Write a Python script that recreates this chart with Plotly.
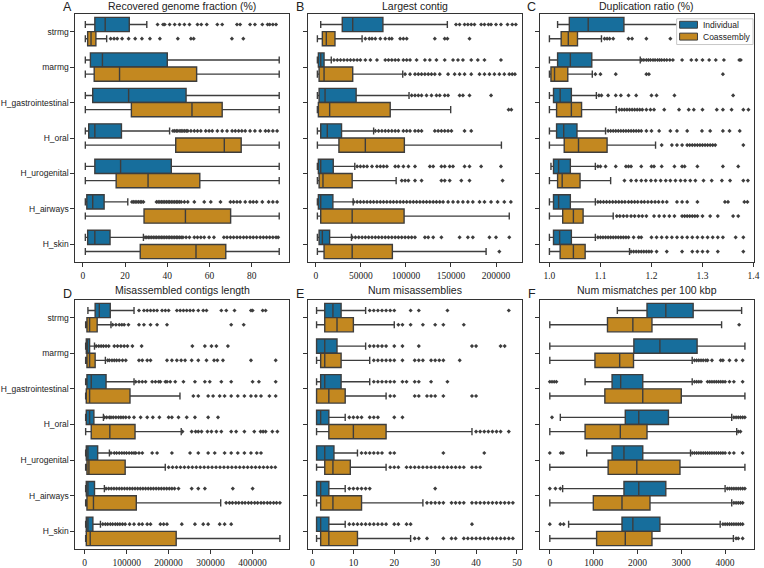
import plotly.graph_objects as go

categories = ["strmg", "marmg", "H_gastrointestinal", "H_oral", "H_urogenital", "H_airways", "H_skin"]
groups = ["Individual", "Coassembly"]
titles = ["Recovered genome fraction (%)", "Largest contig", "Duplication ratio (%)",
          "Misassembled contigs length", "Num misassemblies", "Num mismatches per 100 kbp"]
letters = ["A", "B", "C", "D", "E", "F"]

# tick labels of each panel's value axis
A_ticks = [0, 20, 40, 60, 80]
B_ticks = [0, 50000, 100000, 150000, 200000]
C_ticks = [1.0, 1.1, 1.2, 1.3, 1.4]
D_ticks = [0, 100000, 200000, 300000, 400000]
E_ticks = [0, 10, 20, 30, 40, 50]
F_ticks = [0, 1000, 2000, 3000, 4000]

# box statistics per category: [lower whisker, q1, median, q3, upper whisker]
A_ind = [[1.2, 5.7, 10.6, 22, 30.3], [1.2, 3.6, 9.3, 40, 93], [1.2, 4.7, 21.7, 48.9, 93],
         [1.2, 2.8, 5.7, 18.3, 41.1], [1.2, 5.7, 17.9, 41.9, 93], [1.2, 1.9, 4.7, 10.1, 21.3],
         [1.2, 2.3, 5.7, 12.9, 28.7]]
A_coa = [[1.2, 2.3, 3.9, 6.2, 11.3], [1.2, 5.4, 17.4, 53.9, 93], [1.2, 23, 51.7, 66, 93],
         [1.2, 44, 67, 75, 93], [1.2, 15.8, 30.9, 55.4, 93], [1.2, 29, 48.6, 70, 93],
         [1.2, 27.2, 53.6, 67.7, 93]]
A_ind_out = [
    [35.4, 38, 38.8, 41.1, 43.5, 45.8, 48.1, 50.5, 54.3, 56.1, 58.7, 63.7, 66, 73, 74.5, 79.2, 81.5, 85, 87.5, 88.5, 90, 91.5],
    [], [],
    [42.7, 43.5, 44.3, 45, 46, 46.6, 47.4, 48.2, 49, 49.7, 51.2, 52.8, 54.3, 55.9, 58.2, 59.8, 61.3, 63.7, 66,
     68.3, 70.7, 72.2, 73.8, 75.3, 76.9, 79.2, 81.5, 84, 86.5, 88, 90, 92],
    [],
    [23.3, 24.1, 24.8, 25.6, 26.4, 27.2, 27.9, 28.7, 34.9, 35.7, 36.5, 37.3, 38, 38.8, 39.6, 40.4, 41.1, 41.9, 42.7,
     43.5, 44.3, 45, 45.8, 46.6, 48.1, 49.7, 52.8, 57.5, 60.6, 65.2, 69.9, 71.4, 73, 74.5, 76.9, 79.2, 80.7, 82.3,
     85, 88, 90, 92],
    [29.5, 30.3, 31.1, 31.8, 32.6, 33.4, 34.2, 34.9, 35.7, 36.5, 37.3, 38, 38.8, 39.6, 40.4, 41.1, 41.9, 42.7, 43.5,
     44.3, 45, 45.8, 46.6, 47.4, 48.9, 50.5, 52.8, 54.3, 55.9, 57.5, 59.8, 62.1, 66.8, 68.3, 69.9, 71.4, 73, 74.5,
     76.1, 77.6, 79.2, 80.7, 82.3, 84, 85.5, 87, 88.5, 90, 91.5, 92.5],
]
A_coa_out = [[13.2, 14.8, 16.3, 18.6, 21.7, 24.8, 28, 31.8, 36.5, 45, 51.2, 52.5, 70.6, 76], [], [], [], [], [], []]

B_ind = [[5500, 29400, 41000, 74500, 146000], [1800, 2900, 5500, 9200, 17200], [1800, 3700, 10300, 44800, 103500],
         [1800, 5500, 12800, 28600, 64200], [1800, 2900, 5500, 19400, 43300], [1800, 2900, 5500, 19000, 41500],
         [1800, 3700, 7300, 15400, 39600]]
B_coa = [[1800, 7300, 11700, 21300, 51400], [1800, 3700, 9200, 41000, 96500], [1800, 2900, 15400, 82600, 149700],
         [1800, 25700, 55000, 98300, 206000], [1800, 3700, 8000, 40400, 89200], [1800, 5500, 40400, 98000, 214700],
         [1800, 9200, 40400, 85000, 189000]]
B_ind_out = [
    [155600, 159600, 165100, 168800, 172500, 176100, 183500, 187200, 191600, 194500, 200000, 205500, 212800, 218000, 222000],
    [20200, 23900, 27500, 31200, 34900, 38500, 42200, 45900, 49500, 55000, 60600, 67900, 77100, 80700, 84400, 88100,
     91700, 97200, 100900, 104600, 111900, 121100, 126600, 133900, 143100, 152300, 157800, 163300, 172500, 179800,
     187200, 205500],
    [106400, 110100, 113800, 117400, 122900, 128400, 133900, 137600, 143100, 146800, 159600, 163300, 170600, 194500],
    [66100, 69700, 73400, 77100, 80700, 84400, 88100, 91700, 97200, 100900, 104600, 110100, 113800, 117400, 132100,
     135800, 139400, 143100, 146800, 150500, 165100, 172500],
    [45900, 49500, 53200, 56900, 62400, 67900, 71600, 75200, 78900, 88100, 91700, 97200, 102800, 110100, 126600,
     130300, 139400, 143100, 148600, 152300, 165100, 170600, 183500, 205500],
    [42200, 45900, 49500, 53200, 56900, 60600, 64200, 67900, 71600, 75200, 78900, 82600, 86200, 89900, 93600, 97200,
     100900, 104600, 108300, 111900, 115600, 119300, 122900, 126600, 130300, 133900, 137600, 141300, 146800, 152300,
     157800, 163300, 168800, 174300, 181700, 187200, 194500, 201800, 209200, 216500],
    [40400, 44000, 47700, 51400, 55000, 58700, 62400, 66100, 69700, 73400, 77100, 80700, 84400, 88100, 91700, 95400,
     99100, 102800, 106400, 110100, 121100, 124800, 130300, 139400, 159600, 168800, 174300, 192700, 200000, 214700],
]
B_coa_out = [
    [55000, 59400, 62400, 66100, 71600, 77100, 81500, 84400, 93600, 97200, 100900, 132100, 143100, 146100, 170600],
    [99100, 104600, 110100, 113800, 117400, 121100, 124800, 128400, 132100, 137600, 146800, 154100, 159600, 165100,
     172500, 181700, 187200, 192700, 198200, 203700, 209200, 214700, 218000, 221000],
    [214000, 217000],
    [],
    [95400, 99100, 102800, 110100, 117400, 139400, 143100, 148600, 161500, 170600, 207300],
    [],
    [203700],
]

C_ind = [[1.016, 1.039, 1.076, 1.146, 1.26], [1.0, 1.016, 1.041, 1.083, 1.178], [1.0, 1.008, 1.021, 1.043, 1.092],
         [1.0, 1.014, 1.028, 1.054, 1.11], [1.003, 1.008, 1.018, 1.041, 1.09], [1.0, 1.008, 1.018, 1.041, 1.09],
         [1.0, 1.008, 1.02, 1.043, 1.09]]
C_coa = [[1.0, 1.023, 1.037, 1.055, 1.102], [1.0, 1.003, 1.010, 1.036, 1.084], [1.0, 1.014, 1.043, 1.063, 1.131],
         [1.0, 1.029, 1.057, 1.113, 1.208], [1.0, 1.016, 1.025, 1.06, 1.12], [1.0, 1.026, 1.047, 1.066, 1.125],
         [1.0, 1.021, 1.047, 1.07, 1.157]]
C_ind_out = [
    [1.3, 1.33],
    [1.181, 1.185, 1.19, 1.194, 1.198, 1.203, 1.207, 1.212, 1.216, 1.22, 1.225, 1.23, 1.236, 1.242, 1.26, 1.278,
     1.288, 1.3, 1.313, 1.326, 1.342, 1.372, 1.375],
    [1.097, 1.102, 1.115, 1.13, 1.14, 1.155, 1.17, 1.2, 1.21, 1.245, 1.36],
    [1.115, 1.12, 1.125, 1.13, 1.135, 1.14, 1.145, 1.15, 1.155, 1.16, 1.165, 1.17, 1.175, 1.18, 1.19, 1.2, 1.215,
     1.237, 1.25, 1.27, 1.299, 1.315, 1.34, 1.353, 1.373],
    [1.095, 1.1, 1.11, 1.13, 1.15, 1.155, 1.16, 1.18, 1.2, 1.205, 1.22, 1.245, 1.26, 1.265, 1.29, 1.34, 1.37],
    [1.095, 1.1, 1.106, 1.112, 1.118, 1.124, 1.13, 1.136, 1.142, 1.148, 1.155, 1.161, 1.167, 1.173, 1.18, 1.186,
     1.193, 1.2, 1.207, 1.214, 1.222, 1.23, 1.25, 1.26, 1.27, 1.29, 1.344, 1.35, 1.382, 1.388],
    [1.095, 1.1, 1.105, 1.11, 1.115, 1.12, 1.125, 1.13, 1.135, 1.14, 1.145, 1.15, 1.155, 1.165, 1.175, 1.18, 1.2,
     1.21, 1.22, 1.23, 1.24, 1.25, 1.26, 1.27, 1.28, 1.29, 1.3, 1.31, 1.32, 1.33, 1.34, 1.365, 1.38],
]
C_coa_out = [
    [1.108, 1.113, 1.118, 1.125, 1.155, 1.162, 1.19, 1.237],
    [1.09, 1.1, 1.13, 1.19, 1.195, 1.34],
    [1.137, 1.142, 1.147, 1.152, 1.157, 1.162, 1.167, 1.172, 1.177, 1.182, 1.19, 1.198, 1.205, 1.225, 1.254, 1.273,
     1.283, 1.3, 1.328, 1.34, 1.357, 1.38, 1.39],
    [1.22, 1.24, 1.25, 1.26, 1.27, 1.275, 1.28, 1.285, 1.29, 1.295, 1.3, 1.305, 1.31, 1.315, 1.32, 1.325, 1.38],
    [1.147, 1.16, 1.17, 1.18, 1.189, 1.199, 1.208, 1.218, 1.228, 1.237, 1.247, 1.257, 1.266, 1.276, 1.286, 1.302,
     1.318, 1.338, 1.354, 1.38, 1.389],
    [1.132, 1.138, 1.145, 1.152, 1.16, 1.167, 1.175, 1.182, 1.19, 1.205, 1.215, 1.225, 1.235, 1.245, 1.26, 1.265,
     1.27, 1.275, 1.28, 1.285, 1.29, 1.3, 1.315, 1.33, 1.36, 1.37],
    [1.16, 1.165, 1.17, 1.175, 1.18, 1.185, 1.19, 1.195, 1.2, 1.21, 1.23, 1.26, 1.28, 1.29, 1.3, 1.31, 1.33, 1.38],
]

D_ind = [[7800, 25000, 35000, 61000, 117600], [2400, 3900, 6300, 11800, 23500], [2400, 5500, 15700, 51000, 117600],
         [2400, 3900, 11800, 22000, 44700], [2400, 3900, 7800, 31000, 59000], [2400, 3900, 7800, 23500, 47000],
         [2400, 3900, 7800, 19600, 37600]]
D_coa = [[2400, 5500, 11800, 29800, 62700], [2400, 5500, 11800, 25000, 49400], [2400, 3900, 11800, 108000, 227000],
         [2400, 15700, 60000, 120000, 230000], [2400, 5500, 10200, 96500, 192000], [2400, 5500, 21000, 123000, 324000],
         [2400, 3900, 13300, 218000, 465000]]
D_ind_out = [
    [129400, 141200, 149000, 156900, 164700, 172500, 184300, 192200, 200000, 219600, 227500, 235300, 243100, 251000,
     258800, 270600, 282400, 290200, 325500, 337300, 356900, 396100, 400000, 424000, 431000],
    [27500, 33700, 39200, 44700, 51000, 57300, 70600, 78400, 86300, 94100, 102000, 113700, 135700, 256500, 286300,
     302000, 313700, 341200],
    [121600, 129400, 137300, 145100, 160800, 168600, 176500, 180400, 192200, 196100, 203900, 215700, 235300, 262700,
     286300, 298000, 325500, 349000, 400000, 415000, 455000],
    [47100, 52500, 58800, 62700, 68200, 74500, 80800, 86300, 91800, 98000, 105900, 117600, 133300, 149000, 162400,
     178000, 200000, 207800, 223500, 243100, 262700, 294100, 317600],
    [62700, 70600, 76100, 82400, 88600, 94100, 99600, 105900, 112200, 117600, 121600, 129400, 137300, 160800, 172500,
     207800, 251000, 270600, 294100, 309800, 333300, 349000, 364700, 380400, 396100, 410000, 420000],
    [51000, 57300, 63500, 69800, 76100, 82400, 88600, 94900, 101200, 107500, 113700, 120000, 126300, 132500, 138800,
     145100, 151400, 157600, 163900, 170200, 176500, 182700, 189000, 195300, 201600, 207800, 214100, 223500, 254900,
     270600, 286300, 352900, 400000],
    [43100, 49400, 54900, 61200, 66700, 73100, 78400, 83900, 90200, 96500, 107100, 117600, 129400, 137300, 149000,
     156900, 180400, 188200, 196100, 231400, 262700, 282400, 294100, 321600, 333300, 349000],
]
D_coa_out = [
    [66700, 74500, 82400, 88600, 94100, 104300, 129400, 141200, 156900, 172500, 196100, 349000, 378800],
    [54900, 58800, 65100, 70600, 76100, 82400, 90200, 98000, 129400, 137300, 149000, 156900, 196100, 207800, 219600,
     229800, 239200, 254900, 270600, 290200, 308200, 316100, 329400, 396100, 455000],
    [258800, 270600, 294100, 305900, 321600, 333300, 349000, 364700, 380400, 396100, 407800, 420000, 440000, 455000],
    [232900, 254900, 264300, 270600, 278400, 292500, 302000, 313700, 325500, 349000, 360800, 380400, 403900, 419000,
     425000, 431000, 447000, 459000],
    [200000, 209400, 218800, 228200, 237600, 247100, 256500, 265900, 275300, 284700, 294100, 303500, 312900, 322400,
     331800, 341200, 350600, 360000, 369400, 378800, 388200, 397600, 407000, 416500, 425900, 435300, 444700, 454000],
    [337000, 345000, 352000, 360000, 367000, 375000, 382000, 390000, 397000, 405000, 412000, 420000, 427000, 435000,
     442000, 450000, 457000, 465000],
    [],
]

E_ind = [[1, 3, 5, 7, 13], [1, 1, 3, 6, 13], [1, 2, 3, 7, 14], [1, 1, 2, 4, 8], [1, 1, 3, 5.25, 11],
         [1, 1, 2, 4, 8], [1, 1, 2, 4, 8]]
E_coa = [[1, 3, 6, 10, 20], [1, 2, 3, 7, 14], [1, 1, 4, 8, 18], [1, 4, 10, 18, 39], [1, 3, 5, 9.25, 18],
         [1, 2, 5, 12, 27], [1, 2, 4, 11, 24]]
E_ind_out = [
    [14, 15, 16, 17, 18, 19, 20, 24, 26, 33, 48],
    [14, 15, 16, 17, 18, 20, 22, 26, 39, 40, 46, 47],
    [15, 16, 17, 18, 19, 20, 22, 23, 25, 26, 29, 33],
    [9, 10, 11, 12, 14, 15, 16, 20, 22],
    [12, 13, 14, 15, 16, 17, 19, 20, 32, 42],
    [9, 10, 11, 12, 13, 14, 30],
    [9, 10, 11, 12, 13, 14, 15, 16, 17, 18, 20, 21, 23, 24, 39],
]
E_coa_out = [
    [21, 22, 24, 27, 30, 32, 37],
    [15, 16, 17, 18, 19, 20, 22, 25, 26, 27, 29, 30, 31, 32, 36],
    [19, 20, 25, 26, 28, 29, 30, 32, 39, 40],
    [40, 41, 42, 43, 44, 45, 46, 48],
    [19, 20, 21, 23, 24, 25, 26, 27, 28, 29, 30, 31, 32, 33, 34, 35, 36, 37, 39, 40, 41],
    [28, 29, 30, 31, 32, 34, 35, 36, 37, 39, 40, 41, 42, 43, 44, 45, 46, 47, 48, 49],
    [25, 26, 28, 32, 34, 35, 37, 38, 39, 40, 41, 42, 43, 44, 45, 46, 47, 48, 49],
]

F_ind = [[1541, 2218, 2647, 3271, 4377], [0, 1918, 2512, 3361, 4452], [805, 1421, 1617, 2121, 3249],
         [240, 1722, 2030, 2707, 4151], [842, 1421, 1692, 2121, 3211], [293, 1692, 2030, 2647, 4000],
         [429, 1647, 1895, 2512, 3888]]
F_coa = [[0, 1316, 1895, 2331, 3920], [0, 1030, 1594, 1910, 3249], [0, 1256, 2121, 3000, 4452],
         [0, 805, 1609, 2218, 4264], [0, 1331, 1985, 2970, 4452], [0, 993, 1647, 2286, 4151],
         [0, 1068, 1722, 2331, 4189]]
F_ind_out = [
    [],
    [],
    [0, 50, 100, 150, 3300, 3350, 3400, 3450, 3600, 3650, 3700, 3750, 3800, 3850, 3900, 3950, 4000, 4100, 4200, 4400],
    [50, 4200, 4250, 4300, 4350, 4400, 4450],
    [0, 250, 300, 3250, 3300, 3350, 3400, 3450, 3500, 3550, 3600, 3650, 3700, 3750, 3800, 3850, 3900, 3950, 4000,
     4100, 4200, 4400],
    [0, 128, 240, 4050, 4100, 4150, 4200, 4250, 4300, 4350, 4400, 4450],
    [0, 240, 316, 3950, 4000, 4050, 4100, 4150, 4200, 4250, 4300, 4350, 4400],
]
F_coa_out = [
    [4320],
    [3300, 3350, 3400, 3450, 3500, 3560, 3600, 3700, 3900, 3950, 4100, 4250, 4400],
    [],
    [4300, 4350],
    [],
    [4200, 4250, 4300, 4350, 4400],
    [4250, 4300, 4400],
]

# ---------------- styling / layout ----------------
W, H = 764, 568
colors = {"Individual": "#176e9c", "Coassembly": "#c38820"}
edge = "#3d3d3d"
panels = [
    (A_ind, A_coa, A_ind_out, A_coa_out, A_ticks, [-3.5, 97.5], None),
    (B_ind, B_coa, B_ind_out, B_coa_out, B_ticks, [-9100, 228700], "d"),
    (C_ind, C_coa, C_ind_out, C_coa_out, C_ticks, [0.981, 1.401], ".1f"),
    (D_ind, D_coa, D_ind_out, D_coa_out, D_ticks, [-22000, 486000], "d"),
    (E_ind, E_coa, E_ind_out, E_coa_out, E_ticks, [-1.2, 51.2], None),
    (F_ind, F_coa, F_ind_out, F_coa_out, F_ticks, [-230, 4660], None),
]
cols_px = [(76, 291), (310, 526), (544, 760)]
rows_px = [(14, 265), (303, 555)]
title_px = [6, 293]
letter_px = [7, 297]


def px_x(v):
    return v / W


def px_y(v):
    return 1 - v / H


fig = go.Figure()
layout = dict(width=W, height=H, margin=dict(l=0, r=0, t=0, b=0),
              paper_bgcolor="white", plot_bgcolor="white", showlegend=False)
annotations = []
shapes = []
offsets = {"Individual": -0.2, "Coassembly": 0.2}

for p, (s_ind, s_coa, o_ind, o_coa, ticks, xr, fmt) in enumerate(panels):
    r, c = divmod(p, 3)
    sfx = "" if p == 0 else str(p + 1)
    xa, ya = "x" + sfx, "y" + sfx
    for grp, stats, outs in (("Individual", s_ind, o_ind), ("Coassembly", s_coa, o_coa)):
        off = offsets[grp]
        pos = [k + off for k in range(len(categories))]
        fig.add_trace(go.Box(
            y=pos, orientation="h",
            lowerfence=[s[0] for s in stats], q1=[s[1] for s in stats], median=[s[2] for s in stats],
            q3=[s[3] for s in stats], upperfence=[s[4] for s in stats],
            width=0.4, whiskerwidth=0.5, boxpoints=False,
            fillcolor=colors[grp], line=dict(color=edge, width=1.4),
            name=grp, legendgroup=grp, hoverinfo="skip",
            xaxis=xa, yaxis=ya))
        ox, oy = [], []
        for k, vals in enumerate(outs):
            ox += vals
            oy += [k + off] * len(vals)
        fig.add_trace(go.Scatter(
            x=ox, y=oy, mode="markers",
            marker=dict(symbol="diamond", size=3.2, color=edge, line=dict(width=0)),
            hoverinfo="skip", xaxis=xa, yaxis=ya))

    x0, x1 = cols_px[c]
    yt, yb = rows_px[r]
    xkey = "xaxis" + sfx
    ykey = "yaxis" + sfx
    layout[xkey] = dict(domain=[x0 / W, x1 / W], anchor=ya, range=xr,
                        tickvals=ticks, tickformat=fmt, ticklabeloverflow="allow",
                        showline=True, mirror=True, linecolor="#333333", linewidth=1,
                        ticks="outside", ticklen=4, tickcolor="#333333", tickwidth=1,
                        showgrid=False, zeroline=False,
                        tickfont=dict(family="Liberation Serif", size=9.5, color="#222222"))
    layout[ykey] = dict(domain=[1 - yb / H, 1 - yt / H], anchor=xa, range=[6.5, -0.5],
                        tickvals=list(range(len(categories))), ticktext=categories,
                        showticklabels=(c == 0),
                        showline=True, mirror=True, linecolor="#333333", linewidth=1,
                        ticks="outside", ticklen=4, tickcolor="#333333", tickwidth=1,
                        showgrid=False, zeroline=False,
                        tickfont=dict(family="Liberation Sans", size=8.5, color="#222222"))
    annotations.append(dict(text=titles[p], xref="paper", yref="paper",
                            x=(x0 + x1) / 2 / W, y=px_y(title_px[r]),
                            xanchor="center", yanchor="middle", showarrow=False, borderpad=0,
                            font=dict(family="Liberation Sans", size=10.5, color="#222222")))
    annotations.append(dict(text=letters[p], xref="paper", yref="paper",
                            x=(x0 - 8) / W, y=px_y(letter_px[r]),
                            xanchor="center", yanchor="middle", showarrow=False, borderpad=0,
                            font=dict(family="Liberation Sans", size=12.5, color="#222222")))

# legend drawn in panel C (frame, colour patches, labels)
shapes.append(dict(type="rect", xref="paper", yref="paper",
                   x0=px_x(682), x1=px_x(759), y0=px_y(45), y1=px_y(19),
                   fillcolor="white", line=dict(color="#c8c8c8", width=1), layer="above"))
for i, grp in enumerate(groups):
    yc = 25 + 12 * i
    shapes.append(dict(type="rect", xref="paper", yref="paper",
                       x0=px_x(685), x1=px_x(703), y0=px_y(yc + 3.5), y1=px_y(yc - 3.5),
                       fillcolor=colors[grp], line=dict(color=edge, width=1), layer="above"))
    annotations.append(dict(text=grp, xref="paper", yref="paper", x=px_x(708), y=px_y(yc),
                            xanchor="left", yanchor="middle", showarrow=False, borderpad=0,
                            font=dict(family="Liberation Sans", size=8.5, color="#222222")))

layout["annotations"] = annotations
layout["shapes"] = shapes
layout["boxmode"] = "overlay"
fig.update_layout(**layout)
fig.write_html("out.html", config={"displayModeBar": False},
               post_script="document.body.style.margin='0px';document.body.style.overflow='hidden';")
